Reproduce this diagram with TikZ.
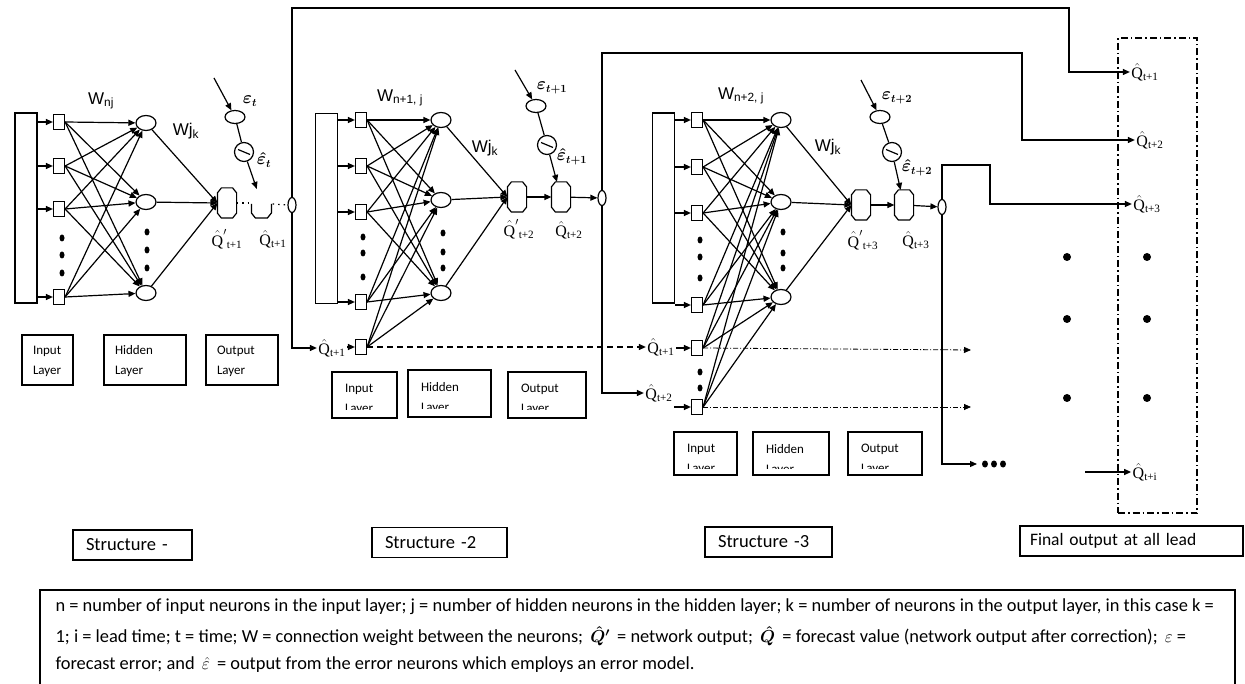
\documentclass[tikz,border=0pt]{standalone}
\usepackage{amsmath}
\usepackage{fontspec}
\setmainfont{Carlito}
\newfontfamily\arialfont{Liberation Sans}
\newfontfamily\timesfont{Liberation Serif}
\usetikzlibrary{shapes.geometric, arrows.meta, positioning, calc}

\newcommand{\Qhat}[1]{{\timesfont$\hat{\mbox{Q}}$\textsubscript{#1}}}
\newcommand{\Qnet}[1]{{\timesfont$\hat{\mbox{Q}}'$\textsubscript{#1}}}

\begin{document}
\begin{tikzpicture}[x=1pt, y=-1pt, line width=1.2pt,
    arrow/.style={-{Triangle[length=7pt,width=6pt]}},
    inbar/.style={rectangle, draw, minimum width=22, minimum height=190, inner sep=0},
    insq/.style={rectangle, draw, minimum width=11, minimum height=15, inner sep=0},
    hid/.style={ellipse, draw, minimum width=20, minimum height=15, inner sep=0},
    outn/.style={rectangle, minimum width=18, minimum height=29, inner sep=0},
    errn/.style={ellipse, draw, minimum width=20, minimum height=13, inner sep=0},
    minusn/.style={circle, draw, minimum size=19, inner sep=0,
        path picture={\draw (path picture bounding box.center) ++(-6pt,2.5pt) -- ++(12pt,-5pt);}},
    junc/.style={ellipse, draw, fill=white, minimum width=8, minimum height=15, inner sep=0},
    layerbox/.style={rectangle, draw, inner xsep=11pt, align=left, text height=12pt, font=\fontsize{13}{20}\selectfont},
    layertext/.style={inner sep=0, align=left, font=\fontsize{13}{20}\selectfont},
    stbox/.style={rectangle, draw, minimum height=30, inner xsep=13pt, align=left, font=\fontsize{18.5}{20}\selectfont},
    wlab/.style={font=\arialfont\fontsize{17}{17}\selectfont, inner sep=0},
    qlab/.style={font=\fontsize{16}{16}\selectfont, inner sep=1pt},
    elab/.style={font=\fontsize{16}{16}\selectfont, inner sep=0},
    captext/.style={font=\fontsize{18.4}{18}\selectfont, inner sep=0, anchor=west},
    dotlink/.style={dash pattern=on 1.5pt off 4pt},
    dashlink/.style={dash pattern=on 6pt off 4pt},
    dotdash/.style={dash pattern=on 5pt off 2pt on 1pt off 2pt, line width=0.8pt},
    boxdash/.style={dash pattern=on 7pt off 3pt on 1.5pt off 3pt, line width=1.1pt}
]
\useasboundingbox (0,0) rectangle (1245,684);

% Structure 1
\node[inbar] (bar1) at (26,208) {};
\node[insq] (s1a) at (59,122) {};
\node[insq] (s1b) at (59,166) {};
\node[insq] (s1c) at (59,209) {};
\node[insq] (s1d) at (59,297) {};
\node[hid] (h1a) at (146,123) {};
\node[hid] (h1b) at (146,202) {};
\node[hid] (h1c) at (146,293) {};
\node[outn] (o11) at (227,203) {};
\node[outn, minimum width=20] (o12) at (262,204) {};
\node[junc] (j1) at (292,205) {};
\node[errn] (e1) at (235,117) {};
\node[minusn] (m1) at (244,152) {};
\coordinate (es1) at (214,78);
\node[wlab] (w1a) at (101,101) {W\textsubscript{nj}};
\node[wlab] (w1b) at (186,131) {Wj\textsubscript{k}};
\node[elab] (le1) at (250,101) {$\boldsymbol{\varepsilon_{t}}$};
\node[elab] (lh1) at (264,160) {$\boldsymbol{\hat{\varepsilon}_{t}}$};
\node[qlab] (q11) at (227,239) {\Qnet{t+1}};
\node[qlab] (q12) at (273,239) {\Qhat{t+1}};
\node[layerbox, text width=29, minimum height=50] (in1) at (47.5,360) {Input\\Layer};
\node[layerbox, text width=60, minimum height=50] (hid1) at (145,360) {Hidden\\Layer};
\node[layerbox, text width=50, minimum height=50] (out1) at (242,360) {Output\\Layer};
\foreach \y in {238,255,273} \fill (62,\y) ellipse (2.5pt and 3.5pt);
\foreach \y in {232,250,268} \fill (147,\y) ellipse (2.5pt and 3.5pt);

% Structure 2
\node[inbar] (bar2) at (326.5,208.5) {};
\node[insq] (s2a) at (361,120) {};
\node[insq] (s2b) at (361,166) {};
\node[insq] (s2c) at (361,212) {};
\node[insq] (s2d) at (361,302) {};
\node[insq] (s2q) at (361,347) {};
\node[hid] (h2a) at (441,120) {};
\node[hid] (h2b) at (441,200) {};
\node[hid] (h2c) at (441,293) {};
\node[outn] (o21) at (517,197) {};
\node[outn] (o22) at (561,197) {};
\node[junc] (j2) at (602,198) {};
\node[errn] (e2) at (536,106) {};
\node[minusn] (m2) at (547,145) {};
\coordinate (es2) at (515,70);
\node[wlab] (w2a) at (400,98) {W\textsubscript{n+1, j}};
\node[wlab] (w2b) at (485,148) {Wj\textsubscript{k}};
\node[elab] (le2) at (552,88) {$\boldsymbol{\varepsilon_{t+1}}$};
\node[elab] (lh2) at (572,157) {$\boldsymbol{\hat{\varepsilon}_{t+1}}$};
\node[qlab] (q21n) at (519,229) {\Qnet{t+2}};
\node[qlab] (q22) at (569,230) {\Qhat{t+2}};
\node[qlab] (q21) at (332,348) {\Qhat{t+1}};
\foreach \y in {237,253,277} \fill (363,\y) ellipse (2.5pt and 3.5pt);
\foreach \y in {233,252,268} \fill (443,\y) ellipse (2.5pt and 3.5pt);

% Structure 3
\node[inbar] (bar3) at (663.5,208) {};
\node[insq] (s3a) at (697,120) {};
\node[insq] (s3b) at (697,167) {};
\node[insq] (s3c) at (697,213) {};
\node[insq] (s3d) at (697,305) {};
\node[insq] (s3q1) at (697,348) {};
\node[insq] (s3q2) at (697,407) {};
\node[hid] (h3a) at (781,120) {};
\node[hid] (h3b) at (781,202) {};
\node[hid] (h3c) at (781,297) {};
\node[outn] (o31) at (861,205) {};
\node[outn] (o32) at (904,205) {};
\node[junc] (j3) at (942,207) {};
\node[errn] (e3) at (880,117) {};
\node[minusn] (m3) at (892,152) {};
\coordinate (es3) at (861,80);
\node[wlab] (w3a) at (741,96) {W\textsubscript{n+2, j}};
\node[wlab] (w3b) at (828,147) {Wj\textsubscript{k}};
\node[elab] (le3) at (897,98) {$\boldsymbol{\varepsilon_{t+2}}$};
\node[elab] (lh3) at (917,168) {$\boldsymbol{\hat{\varepsilon}_{t+2}}$};
\node[qlab] (q31n) at (863,240) {\Qnet{t+3}};
\node[qlab] (q32n) at (916,240) {\Qhat{t+3}};
\node[qlab] (q31) at (661,347) {\Qhat{t+1}};
\node[qlab] (q32) at (659,393) {\Qhat{t+2}};
\foreach \y in {240,257,278,372,388} \fill (700,\y) ellipse (2.5pt and 3.5pt);
\foreach \y in {232,253,268} \fill (783,\y) ellipse (2.5pt and 3.5pt);

% output neurons (octagons)
\foreach \o in {o11,o21,o22,o31,o32}
  \draw ([shift={(0,5)}]\o.north west) -- ([shift={(4,0)}]\o.north west) -- ([shift={(-4,0)}]\o.north east)
    -- ([shift={(0,5)}]\o.north east) -- ([shift={(0,-5)}]\o.south east) -- ([shift={(-4,0)}]\o.south east)
    -- ([shift={(4,0)}]\o.south west) -- ([shift={(0,-5)}]\o.south west) -- cycle;

% layer boxes with cut text
\foreach \nm/\cx/\cy/\bw/\bh/\cut/\txt in {in2/364.5/395/65/46/9/Input, hid2/449.5/393.5/83/47/9/Hidden,
    out2/547/395/78/46/9/Output, in3/705.5/453.5/63/43/7/Input, hid3/791/453.5/76/43/7/Hidden,
    out3/885/453.5/74/43/7/Output} {
  \node[rectangle, draw, minimum width=\bw, minimum height=\bh] (\nm) at (\cx,\cy) {};
  \begin{scope}
    \clip ([shift={(1,1)}]\nm.north west) rectangle ([shift={(-1,-\cut)}]\nm.south east);
    \node[layertext, anchor=north west] (\nm-txt) at ([shift={(13,12)}]\nm.north west) {\txt\\Layer};
  \end{scope}
}

% Final outputs
\node[draw, boxdash, minimum width=79, minimum height=475] (fbox) at (1157.5,275.5) {};
\node[qlab] (f1) at (1145,72) {\Qhat{t+1}};
\node[qlab] (f2) at (1150,140) {\Qhat{t+2}};
\node[qlab] (f3) at (1147,204) {\Qhat{t+3}};
\node[qlab] (fi) at (1145,472) {\Qhat{t+i}};
\foreach \x in {1067,1147} \foreach \y in {257,319,398} \fill (\x,\y) circle (4pt);
\foreach \x in {985,994,1003} \fill (\x,464) ellipse (3pt and 3.5pt);

% Connections
\foreach \s in {s1a,s1b,s1c,s1d} \draw[arrow] (bar1.east |- \s) -- (\s);
\foreach \s in {s1a,s1b,s1c,s1d} \foreach \h in {h1a,h1b,h1c} \draw[arrow] (\s.east) -- (\h);
\foreach \h in {h1a,h1b,h1c} \draw[arrow] (\h) -- (o11.west);
\foreach \s in {s2a,s2b,s2c,s2d} \draw[arrow] (bar2.east |- \s) -- (\s);
\foreach \s in {s2a,s2b,s2c,s2d,s2q} \foreach \h in {h2a,h2b,h2c} \draw[arrow] (\s.east) -- (\h);
\foreach \h in {h2a,h2b,h2c} \draw[arrow] (\h) -- (o21.west);
\foreach \s in {s3a,s3b,s3c,s3d} \draw[arrow] (bar3.east |- \s) -- (\s);
\foreach \s in {s3a,s3b,s3c,s3d,s3q1,s3q2} \foreach \h in {h3a,h3b,h3c} \draw[arrow] (\s.east) -- (\h);
\foreach \h in {h3a,h3b,h3c} \draw[arrow] (\h) -- (o31.west);

\draw[dotlink] (o11.east) -- (o12.west |- o11.east);
\draw (o12.west) -- ++(0,9) -- ++(4,5) -- ++(12,0) -- ++(4,-5) -- ++(0,-9);
\draw[dotlink] (o12.east) -- (j1.west);
\draw[arrow] (o21) -- (o22);
\draw[arrow] (o22) -- (j2);
\draw[arrow] (o31) -- (o32);
\draw[arrow] (o32) -- (j3);

% error neurons
\draw[arrow] (es1) -- (e1);
\draw (e1) -- (m1);
\draw[arrow] (m1) -- (o12);
\draw[arrow] (es2) -- (e2);
\draw (e2) -- (m2);
\draw[arrow] (m2) -- (o22);
\draw[arrow] (es3) -- (e3);
\draw (e3) -- (m3);
\draw[arrow] (m3) -- (o32);

% feedback of corrected outputs
\coordinate (r1) at (1069,8);
\coordinate (r2) at (1022,53);
\coordinate (r3) at (990,165);
\coordinate (dd) at (977,464);
\coordinate (fis) at (1085,472);
\coordinate (da1) at (971,350);
\coordinate (da2) at (971,407);
\draw[arrow] (j1.north) |- (r1) |- (f1.west);
\draw[arrow] (j1.south) |- (q21.west);
\draw[arrow] (q21.east |- s2q) -- (s2q.west);
\draw[arrow] (j2.north) |- (r2) |- (f2.west);
\draw[arrow] (j2.south) |- (q32.west);
\draw[arrow] (q32.east |- s3q2) -- (s3q2.west);
\draw[arrow] (j3.north) |- (r3) |- (f3.west);
\draw[arrow] (j3.south) |- (dd);
\draw[arrow] (fis) -- (fis -| fi.west);
\draw[arrow, dashlink] (s2q.east) -- (s2q.east -| q31.west);
\draw[arrow] (q31.east |- s3q1) -- (s3q1.west);
\draw[arrow, dotdash] (s3q1.east) -- (da1);
\draw[arrow, dotdash] (s3q2.east) -- (da2);

% Structure labels
\node[stbox, text width=93] (st1) at (132.5,545) {Structure -};
\node[stbox, text width=109] (st2) at (439.5,542.5) {Structure -2};
\node[stbox, text width=101] (st3) at (768.5,542) {Structure -3};
\node[stbox, inner xsep=10pt, text width=203, font=\fontsize{17.5}{20}\selectfont] (fin) at (1131.5,541) {Final output at all lead};

% Caption
\draw (40,684) -- (40,590) -- (1235,590) -- (1235,684);
\node[captext] (cap1) at (55,607) {n = number of input neurons in the input layer; j = number of hidden neurons in the hidden layer; k = number of neurons in the output layer, in this case k =};
\node[captext] (cap2) at (55,636) {1; i = lead time; t = time; W = connection weight between the neurons; \,$\boldsymbol{\hat{Q}'}$\, = network output; \,$\boldsymbol{\hat{Q}}$\, = forecast value (network output after correction); \,$\varepsilon$ =};
\node[captext] (cap3) at (55,665) {forecast error; and \,$\hat{\varepsilon}$\, = output from the error neurons which employs an error model.};
\end{tikzpicture}
\end{document}
